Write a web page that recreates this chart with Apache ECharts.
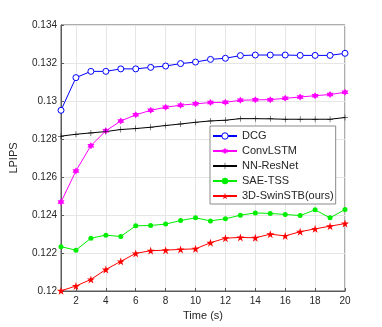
<!DOCTYPE html>
<html>
<head>
<meta charset="utf-8">
<script src="https://cdn.jsdelivr.net/npm/echarts@6/dist/echarts.min.js"></script>
<style>
html,body{margin:0;padding:0;background:#fff;}
#main{width:382px;height:327px;}
</style>
</head>
<body>
<div id="main"></div>
<script>
var times = ['1','2','3','4','5','6','7','8','9','10','11','12','13','14','15','16','17','18','19','20'];
var dcg = [0.12951,0.13123,0.13156,0.13156,0.13169,0.13169,0.13177,0.13184,0.13197,0.13205,0.13219,0.13225,0.13239,0.13242,0.13242,0.13242,0.13240,0.13240,0.13240,0.13251];
var convLstm = [0.12468,0.12632,0.12765,0.12843,0.12895,0.12927,0.12951,0.12967,0.12978,0.12985,0.12992,0.12993,0.13004,0.13006,0.13007,0.13014,0.13021,0.13028,0.13034,0.13046];
var nnResNet = [0.12815,0.12825,0.12832,0.12839,0.12850,0.12855,0.12862,0.12871,0.12879,0.12888,0.12895,0.12899,0.12907,0.12907,0.12906,0.12904,0.12904,0.12904,0.12904,0.12913];
var saeTss = [0.12233,0.12215,0.12278,0.12294,0.12287,0.12343,0.12345,0.12352,0.12371,0.12385,0.12369,0.12380,0.12399,0.12411,0.12408,0.12403,0.12397,0.12427,0.12385,0.12429];
var swinStb = [0.12001,0.12026,0.12061,0.12113,0.12156,0.12198,0.12212,0.12215,0.12219,0.12222,0.12254,0.12278,0.12282,0.12280,0.12299,0.12290,0.12312,0.12327,0.12341,0.12355];

var seriesNames = ['DCG','ConvLSTM','NN-ResNet','SAE-TSS','3D-SwinSTB(ours)'];

var hexagram = 'path://M0,-100L29,-50L87,-50L58,0L87,50L29,50L0,100L-29,50L-87,50L-58,0L-87,-50L-29,-50Z';
var pentagram = 'path://M0,-100L22,-31L95,-31L36,12L59,81L0,38L-59,81L-36,12L-95,-31L-22,-31Z';
var plus = 'path://M-8,-100L8,-100L8,-8L100,-8L100,8L8,8L8,100L-8,100L-8,8L-100,8L-100,-8L-8,-8Z';

var font = 'Liberation Sans, Arial, sans-serif';
var evenOnly = function (idx, val) { return Number(val) % 2 === 0; };

var myChart = echarts.init(document.getElementById('main'));

var option = {
    backgroundColor: '#fff',
    animation: false,
    grid: {
        left: 49,
        right: 37,
        top: 25,
        bottom: 36,
        show: true,
        borderColor: '#5a5a5a',
        borderWidth: 1
    },
    legend: {
        data: seriesNames,
        orient: 'vertical',
        left: 210,
        top: 126,
        padding: [4, 2, 2, 2],
        itemWidth: 24,
        itemHeight: 8,
        itemGap: 3,
        itemStyle: { borderWidth: 1 },
        backgroundColor: '#fff',
        borderColor: '#8a8a8a',
        borderWidth: 1,
        borderRadius: 0,
        textStyle: {
            fontFamily: font,
            fontSize: 11,
            color: '#262626',
            lineHeight: 12
        }
    },
    xAxis: {
        type: 'category',
        boundaryGap: false,
        data: times,
        name: 'Time (s)',
        nameLocation: 'middle',
        nameGap: 19,
        nameTextStyle: { fontFamily: font, fontSize: 11, color: '#262626' },
        axisLine: { lineStyle: { color: '#5a5a5a' } },
        axisTick: { inside: true, length: 3, interval: evenOnly, lineStyle: { color: '#5a5a5a' } },
        axisLabel: { interval: evenOnly, margin: 5, fontFamily: font, fontSize: 10, color: '#262626' },
        splitLine: { show: true, interval: evenOnly, lineStyle: { color: '#e6e6e6' } }
    },
    yAxis: {
        type: 'value',
        min: 0.12,
        max: 0.134,
        interval: 0.002,
        name: 'LPIPS',
        nameLocation: 'middle',
        nameGap: 42,
        nameTextStyle: { fontFamily: font, fontSize: 11, color: '#262626' },
        axisLine: { show: true, lineStyle: { color: '#5a5a5a' } },
        axisTick: { show: true, inside: true, length: 3, lineStyle: { color: '#5a5a5a' } },
        axisLabel: { margin: 4, fontFamily: font, fontSize: 10, color: '#262626' },
        splitLine: { show: true, lineStyle: { color: '#e6e6e6' } }
    },
    series: [
        {
            name: 'DCG',
            type: 'line',
            data: dcg,
            color: '#0000ff',
            symbol: 'circle',
            symbolSize: 6,
            lineStyle: { width: 1, color: '#0000ff' },
            itemStyle: { color: '#ffffff', borderColor: '#0000ff', borderWidth: 1 }
        },
        {
            name: 'ConvLSTM',
            type: 'line',
            data: convLstm,
            color: '#ff00ff',
            symbol: hexagram,
            symbolSize: 7,
            lineStyle: { width: 1 }
        },
        {
            name: 'NN-ResNet',
            type: 'line',
            data: nnResNet,
            color: '#000000',
            symbol: plus,
            symbolSize: 6,
            lineStyle: { width: 1 }
        },
        {
            name: 'SAE-TSS',
            type: 'line',
            data: saeTss,
            color: '#00ee00',
            symbol: 'circle',
            symbolSize: 5,
            lineStyle: { width: 1 }
        },
        {
            name: '3D-SwinSTB(ours)',
            type: 'line',
            data: swinStb,
            color: '#ff0000',
            symbol: pentagram,
            symbolSize: 8,
            lineStyle: { width: 1 }
        }
    ]
};

myChart.setOption(option);

window.onresize = function () {
    myChart.resize();
};
</script>
</body>
</html>
